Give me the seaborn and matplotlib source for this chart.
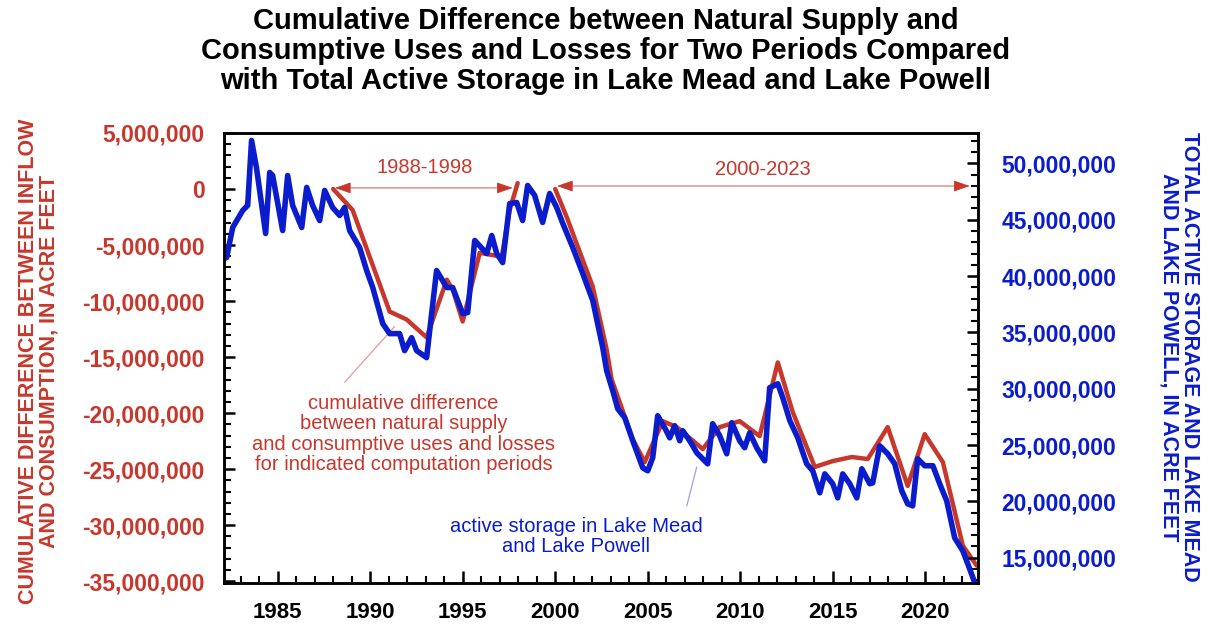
import numpy as np
import pandas as pd
import seaborn as sns
import matplotlib.pyplot as plt
from matplotlib.ticker import MultipleLocator, FuncFormatter

# storage in Lake Mead + Lake Powell (million acre feet)
storage_year = [1982.1, 1982.24, 1982.57, 1983.11, 1983.38, 1983.59, 1983.86, 1984.35, 1984.57, 1984.73,
                1985.27, 1985.54, 1985.81, 1986.30, 1986.57, 1986.89, 1987.27, 1987.54, 1987.97, 1988.35,
                1988.62, 1988.89, 1989.43, 1989.81, 1990.14, 1990.68, 1991.05, 1991.59, 1991.86, 1992.24,
                1992.51, 1993.05, 1993.59, 1994.14, 1994.46, 1995.0, 1995.27, 1995.65, 1996.30, 1996.57,
                1996.84, 1997.16, 1997.54, 1997.92, 1998.24, 1998.51, 1998.89, 1999.32, 1999.70, 2000.08,
                2000.41, 2000.95, 2001.49, 2002.03, 2002.57, 2002.78, 2003.11, 2003.38, 2003.76, 2004.19,
                2004.73, 2005.0, 2005.27, 2005.54, 2005.92, 2006.19, 2006.46, 2006.73, 2006.89, 2007.27,
                2007.65, 2008.24, 2008.51, 2008.89, 2009.27, 2009.54, 2009.97, 2010.24, 2010.51, 2010.89,
                2011.32, 2011.59, 2012.03, 2012.30, 2012.68, 2013.11, 2013.59, 2013.92, 2014.30, 2014.57,
                2015.0, 2015.27, 2015.54, 2015.92, 2016.30, 2016.57, 2017.0, 2017.16, 2017.54, 2017.97,
                2018.35, 2018.73, 2019.05, 2019.32, 2019.59, 2019.97, 2020.41, 2020.78, 2021.16, 2021.59,
                2022.03, 2022.30, 2022.68, 2022.9]
storage_maf = [41.56, 41.64, 44.31, 45.82, 46.27, 52.04, 49.56, 43.78, 49.2, 48.93,
               44.04, 48.93, 46.27, 44.31, 47.87, 46.27, 44.93, 47.6, 46.09, 45.38,
               46.09, 44.04, 42.53, 40.49, 38.98, 35.78, 34.89, 34.89, 33.38, 34.53,
               33.38, 32.76, 40.49, 38.98, 38.98, 36.67, 36.76, 43.16, 42.0, 43.6,
               42.0, 41.2, 46.44, 46.53, 44.93, 48.04, 47.16, 44.76, 47.33, 46.09,
               44.67, 42.53, 40.22, 37.82, 33.64, 31.6, 29.82, 28.22, 27.42, 25.38,
               22.98, 22.71, 23.87, 27.6, 26.53, 25.64, 26.71, 25.38, 26.27, 25.38,
               24.31, 23.33, 26.89, 25.82, 24.22, 26.98, 25.38, 24.76, 26.09, 24.76,
               23.6, 30.09, 30.44, 29.2, 27.16, 25.64, 23.33, 22.71, 20.76, 22.44,
               21.56, 20.31, 22.44, 21.56, 20.31, 22.89, 21.56, 21.64, 24.93, 24.22,
               23.33, 20.93, 19.78, 19.6, 23.78, 23.16, 23.16, 21.56, 20.04, 16.76,
               15.6, 14.44, 12.76, 12.0]

# cumulative difference, period 1988-1998 (million acre feet)
p1_year = [1988.0, 1989.05, 1991.05, 1991.97, 1993.05, 1994.14, 1994.46, 1995.0, 1995.92, 1997.11, 1997.54, 1997.97]
p1_maf = [0.0, -1.87, -10.93, -11.64, -13.24, -8.09, -8.98, -11.82, -5.69, -6.04, -1.87, 0.53]

# cumulative difference, period 2000-2023
p2_year = [2000.0, 2000.62, 2002.03, 2002.78, 2003.05, 2004.19, 2004.84, 2005.81, 2006.57, 2007.97,
           2008.89, 2009.97, 2011.05, 2012.03, 2012.84, 2014.03, 2015.0, 2016.03, 2016.89, 2017.97,
           2019.05, 2019.97, 2020.95, 2022.03, 2022.78]
p2_maf = [0.0, -2.49, -8.71, -14.31, -16.98, -22.31, -24.36, -20.71, -21.24, -23.2,
          -21.24, -20.71, -22.04, -15.47, -19.91, -24.8, -24.27, -23.91, -24.09, -21.24,
          -26.49, -21.87, -24.36, -31.82, -33.6]

RED = "#c8372b"
BLUE = "#0a1ccc"

sns.set_style("ticks")
plt.rcParams['font.family'] = ['Liberation Sans', 'DejaVu Sans']
plt.rcParams['text.color'] = 'black'
plt.rcParams['xtick.color'] = 'black'
plt.rcParams['ytick.color'] = 'black'

fig = plt.figure(figsize=(12.14, 6.28), dpi=100)
ax = fig.add_axes([224 / 1214, 1 - 583 / 628, 754 / 1214, 450 / 628])
ax2 = ax.twinx()

storage = pd.DataFrame({"year": storage_year, "af": np.array(storage_maf) * 1e6})
p1 = pd.DataFrame({"year": p1_year, "af": np.array(p1_maf) * 1e6})
p2 = pd.DataFrame({"year": p2_year, "af": np.array(p2_maf) * 1e6})

sns.lineplot(data=p1, x="year", y="af", ax=ax, color=RED, linewidth=3.2, sort=False)
sns.lineplot(data=p2, x="year", y="af", ax=ax, color=RED, linewidth=3.2, sort=False)
sns.lineplot(data=storage, x="year", y="af", ax=ax2, color=BLUE, linewidth=4.0, sort=False)

ax.set_xlim(1982.1, 2022.85)
ax.set_ylim(-35.15e6, 5.0e6)
ax2.set_ylim(12.75e6, 52.7e6)

fmt = FuncFormatter(lambda v, p: "{:,}".format(int(round(v))))
ax.yaxis.set_major_locator(MultipleLocator(5e6))
ax.yaxis.set_minor_locator(MultipleLocator(1e6))
ax.yaxis.set_major_formatter(fmt)
ax2.yaxis.set_major_locator(MultipleLocator(5e6))
ax2.yaxis.set_minor_locator(MultipleLocator(1e6))
ax2.yaxis.set_major_formatter(fmt)
ax.xaxis.set_major_locator(MultipleLocator(5))
ax.xaxis.set_minor_locator(MultipleLocator(1))

ax.set_xlabel("")
ax.set_ylabel("")
ax2.set_ylabel("")

for a in (ax, ax2):
    for s in a.spines.values():
        s.set_visible(True)
        s.set_linewidth(1.8)
        s.set_color("black")

ax.tick_params(axis="y", which="major", direction="in", length=8, width=1.8,
               labelsize=16.5, labelcolor=RED, pad=14, right=False)
ax.tick_params(axis="y", which="minor", direction="in", length=5, width=1.5, right=False)
ax.tick_params(axis="x", which="major", direction="in", length=9, width=1.8,
               labelsize=16, labelcolor="black", pad=14, top=False)
ax.tick_params(axis="x", which="minor", direction="in", length=5, width=1.5, top=False)
ax2.tick_params(axis="y", which="major", direction="in", length=8, width=1.8,
                labelsize=16.5, labelcolor=BLUE, pad=17)
ax2.tick_params(axis="y", which="minor", direction="in", length=5, width=1.5)
for lab in ax.get_yticklabels() + ax.get_xticklabels() + ax2.get_yticklabels():
    lab.set_fontweight("bold")

# period arrows and labels
ax.annotate("", xy=(1988.1, 0.1e6), xytext=(1997.7, 0.1e6),
            arrowprops=dict(arrowstyle="<|-|>,head_length=1.0,head_width=0.35",
                            color=RED, lw=0.6, shrinkA=0, shrinkB=0))
ax.annotate("", xy=(2000.1, 0.27e6), xytext=(2022.4, 0.27e6),
            arrowprops=dict(arrowstyle="<|-|>,head_length=1.0,head_width=0.35",
                            color=RED, lw=0.6, shrinkA=0, shrinkB=0))
ax.text(1992.95, 1.9e6, "1988-1998", color=RED, fontsize=14.5, ha="center", va="center")
ax.text(2011.2, 1.7e6, "2000-2023", color=RED, fontsize=14.5, ha="center", va="center")

# callouts
ax.plot([1988.62, 1991.32], [-17.24e6, -12.27e6], color="#e89a93", lw=0.9)
ax.text(1991.8, -21.85e6, "cumulative difference\nbetween natural supply\nand consumptive uses and losses\nfor indicated computation periods",
        color=RED, fontsize=14.5, ha="center", va="center", multialignment="center", linespacing=1.1)
ax.plot([2007.11, 2007.65], [-28.27e6, -24.8e6], color="#9aa0e8", lw=0.9)
ax.text(2001.15, -31.0e6, "active storage in Lake Mead\nand Lake Powell",
        color=BLUE, fontsize=14.5, ha="center", va="center", multialignment="center", linespacing=1.1)

fig.text(0.499, 1 - 51 / 628, "Cumulative Difference between Natural Supply and\nConsumptive Uses and Losses for Two Periods Compared\nwith Total Active Storage in Lake Mead and Lake Powell",
         ha="center", va="center", fontsize=21, fontweight="bold", linespacing=1.1, color="black")
fig.text(39 / 1214, 1 - 361 / 628, "CUMULATIVE DIFFERENCE BETWEEN INFLOW\nAND CONSUMPTION, IN ACRE FEET",
         rotation=90, ha="center", va="center", color=RED, fontsize=15.5, fontweight="bold", linespacing=1.0)
fig.text(1179 / 1214, 1 - 357 / 628, "TOTAL ACTIVE STORAGE AND LAKE MEAD\nAND LAKE POWELL, IN ACRE FEET",
         rotation=270, ha="center", va="center", color=BLUE, fontsize=15.5, fontweight="bold", linespacing=1.0)

fig.savefig("out.png", dpi=100)
